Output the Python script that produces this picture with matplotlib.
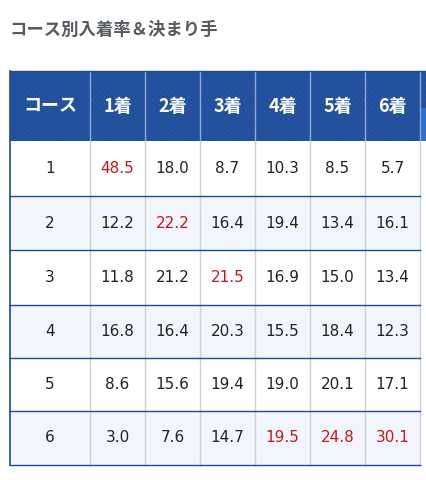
import matplotlib
matplotlib.use("Agg")
import matplotlib.pyplot as plt
from matplotlib.patches import Rectangle

plt.rcParams['font.family'] = ['Noto Sans CJK JP', 'DejaVu Sans']
plt.rcParams['hatch.linewidth'] = 0.3

title = "コース別入着率＆決まり手"
headers = ["コース", "1着", "2着", "3着", "4着", "5着", "6着"]
courses = ["1", "2", "3", "4", "5", "6"]
values = [
    [48.5, 18.0, 8.7, 10.3, 8.5, 5.7],
    [12.2, 22.2, 16.4, 19.4, 13.4, 16.1],
    [11.8, 21.2, 21.5, 16.9, 15.0, 13.4],
    [16.8, 16.4, 20.3, 15.5, 18.4, 12.3],
    [8.6, 15.6, 19.4, 19.0, 20.1, 17.1],
    [3.0, 7.6, 14.7, 19.5, 24.8, 30.1],
]
highlight = [(0, 0), (1, 1), (2, 2), (5, 3), (5, 4), (5, 5)]

W, H = 427, 480
fig = plt.figure(figsize=(W / 100, H / 100), dpi=100)
ax = fig.add_axes([0, 0, 1, 1])
ax.set_xlim(0, W)
ax.set_ylim(H, 0)
ax.axis('off')

ax.text(10, 30, title, fontsize=12.5, fontweight='bold', color='#555a60', va='center', ha='left')

cols = [10, 90, 145, 200, 255, 310, 365, 420]
head_top, head_bot = 71, 141
row_edges = [141, 196, 250, 305, 358, 411, 465]
blue = '#2453a0'
numfam = ['DejaVu Sans']

ax.add_patch(Rectangle((10, head_top), W - 10, head_bot - head_top, fc=blue, lw=0, hatch='xxxxxx', ec='#1f4b94'))
ax.add_patch(Rectangle((421, 108), W - 421, head_bot - 108, color='#2f6fd0', lw=0))
for i, h in enumerate(headers):
    ax.text((cols[i] + cols[i + 1]) / 2, (head_top + head_bot) / 2, h, color='white', fontsize=13,
            fontweight='bold', ha='center', va='center')

for r in range(6):
    y0, y1 = row_edges[r], row_edges[r + 1]
    if r % 2 == 1:
        ax.add_patch(Rectangle((10, y0), 410, y1 - y0, color='#f2f6fc', lw=0))
    yc = (y0 + y1) / 2
    ax.text((cols[0] + cols[1]) / 2, yc, courses[r], fontsize=11, ha='center', va='center',
            color='#222222', family=numfam)
    for c in range(6):
        col = '#c8161d' if (r, c) in highlight else '#222222'
        ax.text((cols[c + 1] + cols[c + 2]) / 2, yc, f"{values[r][c]:.1f}", fontsize=11,
                ha='center', va='center', color=col, family=numfam)

for x in cols[1:]:
    ax.plot([x, x], [head_top, head_bot], color='#8fa8d0', lw=1)
    ax.plot([x, x], [head_bot, row_edges[-1]], color='#d0d0d0', lw=1)
for y in row_edges[1:]:
    ax.plot([10, 420], [y, y], color='#1e4a92', lw=1)
ax.plot([10, 10], [head_top, row_edges[-1]], color='#1e4a92', lw=1.2)
ax.plot([10, W], [head_top, head_top], color='#1e4a92', lw=1)

fig.savefig('out.png', dpi=100)
